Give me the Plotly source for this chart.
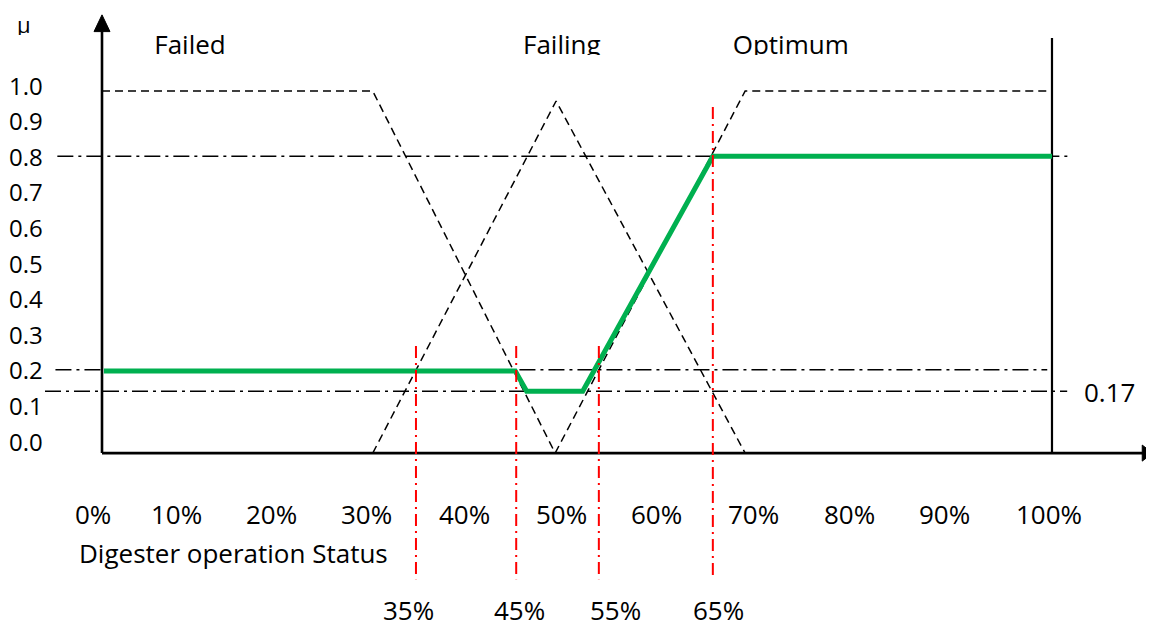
import plotly.graph_objects as go

# ---------------- data ----------------
x_tick_values = [0, 10, 20, 30, 40, 50, 60, 70, 80, 90, 100]
x_tick_labels = ["0%", "10%", "20%", "30%", "40%", "50%", "60%", "70%", "80%", "90%", "100%"]
x_tick_label_pos = [-1.0, 7.8, 17.8, 27.8, 38.2, 48.4, 58.4, 68.6, 78.7, 88.7, 99.7]

y_tick_values = [1.0, 0.9, 0.8, 0.7, 0.6, 0.5, 0.4, 0.3, 0.2, 0.1, 0.0]
y_tick_labels = ["1.0", "0.9", "0.8", "0.7", "0.6", "0.5", "0.4", "0.3", "0.2", "0.1", "0.0"]

failed_x = [0, 28.5, 47.7]
failed_y = [0.983, 0.983, -0.034]
failing_x = [28.5, 47.8, 67.7]
failing_y = [-0.034, 0.955, -0.034]
optimum_x = [47.7, 67.7, 99.5]
optimum_y = [-0.034, 0.983, 0.983]

output_x = [0.2, 43.5, 44.7, 50.6, 64.3, 100]
output_y = [0.197, 0.197, 0.14, 0.14, 0.80, 0.80]

level_values = [0.8, 0.2, 0.14]
level_x_start = [-4.7, -4.9, -6.0]
level_x_end = [101.9, 99.5, 101.6]
level_note = "0.17"

cut_labels = ["35%", "45%", "55%", "65%"]
cut_x = [33.05, 43.6, 52.3, 64.3]
cut_top = [0.267, 0.267, 0.267, 0.938]
cut_label_pos = [32.3, 43.9, 54.1, 64.9]

set_names = ["Failed", "Failing", "Optimum"]
set_name_pos = [9.26, 48.4, 72.5]

x_title = "Digester operation Status"
y_title = "μ"

# ---------------- geometry / style ----------------
FONT = "Open Sans"
FS = 26
FS_Y = 24
# the page body adds an 8px offset; ranges are chosen to compensate
X_RANGE = [-9.895, 111.58]
Y_RANGE = [-0.5421, 1.2163]
AXIS_Y0 = -0.034

fig = go.Figure()


def line(xs, ys, color="black", width=1.5, dash="solid"):
    fig.add_trace(go.Scatter(x=xs, y=ys, mode="lines",
                             line=dict(color=color, width=width, dash=dash),
                             hoverinfo="skip", showlegend=False))


# membership functions (dashed)
for xs, ys in [(failed_x, failed_y), (failing_x, failing_y), (optimum_x, optimum_y)]:
    line(xs, ys, width=1.5, dash="8px,5px")

# dash-dot horizontal levels
for yv, x0, x1 in zip(level_values, level_x_start, level_x_end):
    line([x0, x1], [yv, yv], width=1.5, dash="16px,5px,3px,5px")

# right vertical boundary
line([100, 100], [AXIS_Y0, 1.132], width=2.2)

# axes
line([0, 0], [AXIS_Y0, 1.155], width=2.6)
line([0, 109.7], [AXIS_Y0, AXIS_Y0], width=2.6)
# arrow heads
fig.add_trace(go.Scatter(x=[-0.84, 0.84, 0, -0.84], y=[1.150, 1.150, 1.197, 1.150],
                         mode="lines", fill="toself", fillcolor="black",
                         line=dict(color="black", width=1), hoverinfo="skip", showlegend=False))
fig.add_trace(go.Scatter(x=[109.5, 109.5, 110.6, 109.5],
                         y=[AXIS_Y0 - 0.0225, AXIS_Y0 + 0.0225, AXIS_Y0, AXIS_Y0 - 0.0225],
                         mode="lines", fill="toself", fillcolor="black",
                         line=dict(color="black", width=1), hoverinfo="skip", showlegend=False))

# aggregated output (green)
line(output_x, output_y, color="#00B050", width=5)

# red cut lines
for cx, top in zip(cut_x, cut_top):
    line([cx, cx], [top, -0.388], color="#FF0000", width=2, dash="12px,5px,2px,5px")

# set names (as text traces so the clipped bottom can be reproduced)
fig.add_trace(go.Scatter(x=set_name_pos, y=[1.105] * 3, mode="text", text=set_names,
                         textfont=dict(family=FONT, size=FS, color="black"),
                         textposition="middle center", hoverinfo="skip", showlegend=False))
fig.add_shape(type="rect", x0=44, x1=81, y0=1.03, y1=1.084, layer="above",
              fillcolor="white", line=dict(width=0))

annotations = []
for lab, yv in zip(y_tick_labels, y_tick_values):
    annotations.append(dict(x=-6.0, y=yv, text=lab, xanchor="right", yanchor="middle",
                            showarrow=False, font=dict(family=FONT, size=FS_Y, color="black")))
for lab, xp in zip(x_tick_labels, x_tick_label_pos):
    annotations.append(dict(x=xp, y=-0.205, text=lab, xanchor="center", yanchor="middle",
                            showarrow=False, font=dict(family=FONT, size=FS, color="black")))
for lab, xp in zip(cut_labels, cut_label_pos):
    annotations.append(dict(x=xp, y=-0.475, text=lab, xanchor="center", yanchor="middle",
                            showarrow=False, font=dict(family=FONT, size=FS, color="black")))
annotations.append(dict(x=-2.63, y=-0.315, text=x_title, xanchor="left", yanchor="middle",
                        showarrow=False, font=dict(family=FONT, size=FS, color="black")))
annotations.append(dict(x=-8.2, y=1.17, text=y_title, xanchor="center", yanchor="middle",
                        height=22, valign="middle",
                        showarrow=False, font=dict(family=FONT, size=22, color="black")))
annotations.append(dict(x=106.1, y=0.138, text=level_note, xanchor="center", yanchor="middle",
                        showarrow=False, font=dict(family=FONT, size=FS, color="black")))

fig.update_layout(
    width=1154, height=626,
    margin=dict(l=0, r=0, t=0, b=0),
    paper_bgcolor="white", plot_bgcolor="white",
    xaxis=dict(range=X_RANGE, visible=False, fixedrange=True),
    yaxis=dict(range=Y_RANGE, visible=False, fixedrange=True),
    annotations=annotations,
    showlegend=False,
)

fig.write_html("out.html")
